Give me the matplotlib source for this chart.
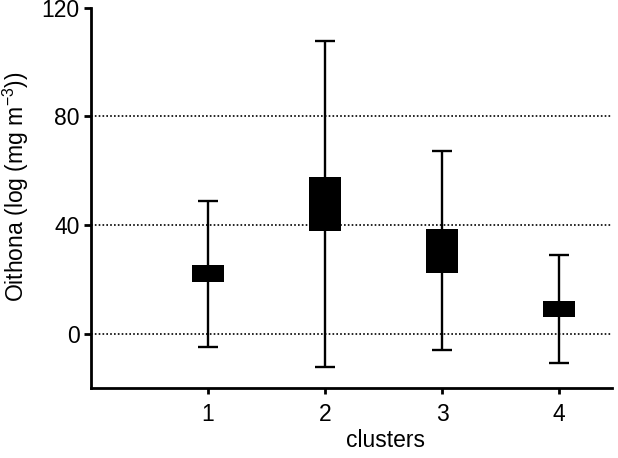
import matplotlib
matplotlib.use("Agg")
import matplotlib.pyplot as plt

# cluster summaries
clusters = [1, 2, 3, 4]
whisker_low = [-4.8, -12.4, -6.1, -10.8]
box_low = [19.0, 37.9, 22.5, 6.1]
box_high = [25.1, 57.5, 38.6, 11.9]
whisker_high = [48.9, 107.7, 67.3, 28.9]
grid_levels = [0, 40, 80]
y_ticks = [0, 40, 80, 120]

plt.rcParams['font.family'] = ['Liberation Sans', 'DejaVu Sans']

fig = plt.figure(figsize=(6.18, 4.58), dpi=100)
ax = fig.add_axes([0.147, 0.153, 0.843, 0.830])

for g in grid_levels:
    ax.axhline(g, color='black', linestyle=(0, (1.0, 1.3)), linewidth=1.2, zorder=1)

ax.vlines(clusters, whisker_low, whisker_high, color='black', linewidth=1.7, zorder=2)
ax.hlines(whisker_low, [c - 0.085 for c in clusters], [c + 0.085 for c in clusters],
          color='black', linewidth=1.7, zorder=2)
ax.hlines(whisker_high, [c - 0.085 for c in clusters], [c + 0.085 for c in clusters],
          color='black', linewidth=1.7, zorder=2)
heights = [h - l for h, l in zip(box_high, box_low)]
ax.bar(clusters, heights, bottom=box_low, width=0.27, color='black', zorder=3)

ax.set_xlim(0, 4.45)
ax.set_ylim(-20, 120)
ax.set_xticks(clusters)
ax.set_yticks(y_ticks)

for side in ['top', 'right']:
    ax.spines[side].set_visible(False)
for side in ['left', 'bottom']:
    ax.spines[side].set_linewidth(2)

ax.tick_params(axis='y', direction='out', length=5, width=2, labelsize=16.5, pad=3)
ax.tick_params(axis='x', direction='out', length=4, width=2, labelsize=16.5, pad=7)

ax.set_xlabel('clusters', fontsize=16.5)
ax.xaxis.set_label_coords(0.566, -0.108)
ax.set_ylabel('Oithona (log (mg m$^{\\mathregular{-3}}$))', fontsize=16.5)
ax.yaxis.set_label_coords(-0.115, 0.53)

fig.savefig('out.png', dpi=100)
